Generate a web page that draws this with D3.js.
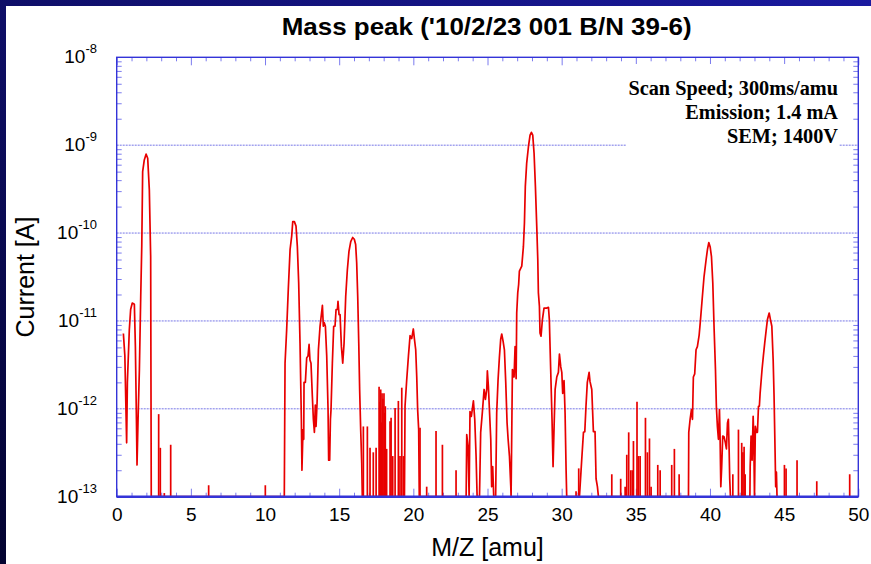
<!DOCTYPE html>
<html>
<head>
<meta charset="utf-8">
<script src="https://cdn.jsdelivr.net/npm/d3@7"></script>
<style>
  body { margin: 0; background: #fff; }
  svg { display: block; }
</style>
</head>
<body>
<svg id="chart" width="871" height="564"></svg>
<script>
// ---- data: [M/Z (amu), ion current (A)]; 0 = below the 1e-13 floor ----
let peakH = [[0.45,7.2e-12],[0.55,4.0e-12],[0.67,4.1e-13],[0.72,2.0e-12],[0.85,7.9e-12],[0.94,1.35e-11],
  [1.05,1.6e-11],[1.19,1.55e-11],[1.26,5.1e-12],[1.33,7.6e-13],[1.37,2.3e-13],[1.44,7.6e-13],[1.53,2.8e-12],
  [1.62,1.9e-11],[1.69,7.1e-11],[1.75,5.0e-10],[1.86,6.8e-10],[1.98,7.9e-10],[2.09,7.1e-10],[2.20,3.1e-10],
  [2.29,5.4e-11],[2.33,0]]

let peakC = [[11.30,0],[11.35,3.3e-12],[11.46,8.0e-12],[11.57,2.3e-11],[11.69,6.5e-11],[11.80,9.3e-11],
  [11.87,1.35e-10],[11.98,1.35e-10],[12.09,1.2e-10],[12.18,7.0e-11],[12.27,2.7e-11],[12.36,5.6e-12],
  [12.45,7.6e-13],[12.49,2.0e-13],[12.56,5.8e-13],[12.61,4.5e-13],[12.63,2.0e-12],[12.72,2.0e-12],
  [12.81,3.8e-12],[12.90,4.0e-12],[12.97,5.4e-12],[13.03,3.6e-12],[13.10,3.3e-12],[13.19,1.4e-12],
  [13.26,7.6e-13],[13.33,5.4e-13],[13.39,1.1e-12],[13.44,6.3e-13],[13.51,1.17e-12],[13.60,4.7e-12],
  [13.71,8.7e-12],[13.87,1.5e-11],[13.93,8.7e-12],[14.00,9.5e-12],[14.07,8.7e-12],[14.16,4.0e-12],
  [14.25,9.8e-13],[14.29,2.6e-13],[14.36,2.6e-13],[14.41,7.6e-13],[14.45,9.8e-13]]

let peakO = [[14.54,3.3e-12],[14.63,8.7e-12],[14.72,8.7e-12],[14.79,1.35e-11],[14.88,1.35e-11],[14.92,1.67e-11],
  [14.99,1.18e-11],[15.06,1.18e-11],[15.15,5.1e-12],[15.24,3.3e-12],[15.33,5.6e-12],[15.44,1.9e-11],
  [15.55,3.8e-11],[15.66,6.2e-11],[15.78,8.0e-11],[15.91,8.9e-11],[16.02,8.5e-11],[16.11,7.4e-11],
  [16.18,4.6e-11],[16.25,1.9e-11],[16.32,5.6e-12],[16.38,1.66e-12],[16.45,5.8e-13],[16.52,2.4e-13],[16.56,0]]

let peakH2O = [[19.40,0],[19.44,1.07e-12],[19.55,2.1e-12],[19.67,4.0e-12],[19.78,6.8e-12],[19.89,6.3e-12],
  [20.00,8.1e-12],[20.07,6.3e-12],[20.16,4.7e-12],[20.23,2.3e-12],[20.29,9.8e-13],[20.36,5.8e-13],[20.40,0]]

let peakC2 = [[23.56,0],[23.60,5.1e-13],[23.69,3.7e-13],[23.76,0],[23.82,9.3e-13],[23.91,8.2e-13],[24.05,1.23e-12],
  [24.14,7.6e-13],[24.23,2.9e-13],[24.30,0],[24.46,0],[24.54,5.4e-13],[24.65,9.0e-13],[24.77,1.66e-12],
  [24.86,1.28e-12],[24.95,1.66e-12],[24.99,2.7e-12],[25.06,1.8e-12],[25.13,9.8e-13],[25.22,4.5e-13],
  [25.28,1.3e-13],[25.35,2.2e-13],[25.42,0],[25.55,0],[25.62,9.0e-13],[25.71,2.1e-12],[25.80,3.8e-12],
  [25.89,6.2e-12],[25.96,7.1e-12],[26.05,5.9e-12],[26.14,4.7e-12],[26.23,2.0e-12],[26.32,6.9e-13],
  [26.39,4.5e-13],[26.48,2.9e-13],[26.57,1.3e-13],[26.59,0]]

let peakN2 = [[26.68,2.8e-12],[26.79,2.3e-12],[26.86,5.1e-12],[26.93,2.2e-12],[26.97,1.23e-11],[27.04,2.1e-11],
  [27.10,2.6e-11],[27.15,3.7e-11],[27.31,4.2e-11],[27.42,7.0e-11],[27.49,1.3e-10],[27.55,3.4e-10],
  [27.64,6.2e-10],[27.76,9.6e-10],[27.87,1.3e-9],[27.96,1.4e-9],[28.05,1.3e-9],[28.14,8.1e-10],
  [28.23,3.4e-10],[28.32,1.2e-10],[28.39,5.0e-11],[28.43,2.1e-11],[28.50,1.47e-11],[28.54,7.3e-12],
  [28.61,6.7e-12],[28.70,1.03e-11],[28.81,1.4e-11],[28.99,1.4e-11],[29.11,1.43e-11],[29.17,1.03e-11],
  [29.26,2.8e-12],[29.35,7.6e-13],[29.42,2.2e-13],[29.49,6.3e-13],[29.56,1.66e-12],[29.67,2.3e-12],
  [29.78,2.6e-12],[29.85,4.2e-12],[29.94,3.0e-12],[30.01,2.6e-12],[30.07,1.5e-12],[30.16,2.1e-12],
  [30.23,9.0e-13],[30.30,2.0e-13],[30.34,0]]

let peakO2 = [[31.20,0],[31.35,2.6e-13],[31.47,5.4e-13],[31.56,5.5e-13],[31.64,1.07e-12],[31.73,2.0e-12],
  [31.85,2.6e-12],[31.91,2.05e-12],[32.03,1.66e-12],[32.14,5.5e-13],[32.25,5.5e-13],[32.32,1.6e-13],
  [32.41,1.3e-13],[32.48,0]]

let peakAr = [[38.55,0],[38.57,5.4e-13],[38.66,7.6e-13],[38.75,9.8e-13],[38.82,7.6e-13],[38.88,2.3e-12],
  [38.97,2.5e-12],[39.06,4.7e-12],[39.15,5.1e-12],[39.27,6.9e-12],[39.36,1.03e-11],[39.47,1.74e-11],
  [39.60,3.2e-11],[39.74,5.0e-11],[39.83,6.5e-11],[39.92,7.8e-11],[40.01,7.0e-11],[40.10,5.4e-11],
  [40.19,2.7e-11],[40.28,8.0e-12],[40.37,2.8e-12],[40.43,1.07e-12],[40.50,6.3e-13],[40.57,4.5e-13],
  [40.64,9.8e-13],[40.68,4.9e-13],[40.73,1.3e-13],[40.79,2.2e-13],[40.86,4.9e-13],[40.95,4.8e-13],
  [41.04,4.1e-13],[41.11,3.5e-13],[41.18,6.9e-13],[41.24,7.6e-13],[41.29,3.5e-13],[41.33,1.6e-13],[41.38,0]]

let peakCO2 = [[42.69,0],[42.71,2.2e-13],[42.77,4.9e-13],[42.84,2.6e-13],[42.91,8.2e-13],[42.95,4.9e-13],
  [43.00,0],[43.06,6.3e-13],[43.13,5.4e-13],[43.20,5.4e-13],[43.27,1.07e-12],[43.33,1.07e-12],
  [43.38,1.5e-12],[43.45,2.1e-12],[43.51,2.8e-12],[43.60,4.0e-12],[43.69,5.6e-12],[43.78,7.6e-12],
  [43.87,1.03e-11],[43.99,1.23e-11],[44.08,1.03e-11],[44.17,8.7e-12],[44.26,3.6e-12],[44.32,1.4e-12],
  [44.39,3.2e-13],[44.43,1.3e-13],[44.48,1.9e-13],[44.52,0]]

// single-sample noise spikes
let spikesLow = [[2.83,8.7e-13],[2.94,3.6e-13],[3.21,1.1e-13],[3.64,3.9e-13],[6.20,1.35e-13],[10.02,1.35e-13]]
let spikesMid = [[16.63,6.3e-13],[16.90,6.3e-13],[17.08,3.6e-13],[17.30,3.2e-13],[17.49,3.6e-13],[17.69,1.78e-12],
  [17.74,1.2e-12],[17.80,1.66e-12],[17.85,7.0e-13],[17.89,1.5e-12],[17.95,1.3e-12],[18.02,1.5e-12],
  [18.06,9.0e-13],[18.11,1.07e-12],[18.20,3.5e-13],[18.43,7.2e-13],[18.50,7.9e-13],[18.61,2.9e-13],
  [18.77,1.02e-12],[18.99,1.23e-12],[19.10,2.9e-13],[19.22,1.74e-12],[19.33,2.9e-13],
  [20.45,6.1e-13],[20.90,1.3e-13],[21.53,5.6e-13],[21.96,3.9e-13],[22.88,2.0e-13]]
let spikesHigh = [[30.97,1.15e-13],[31.15,2.1e-13],[33.38,1.8e-13],[33.98,1.6e-13],[34.28,1.3e-13],[34.39,3.0e-13],
  [34.52,5.4e-13],[34.66,2.0e-13],[34.77,2.0e-13],[34.84,4.3e-13],[35.08,1.2e-12],[35.17,2.9e-13],
  [35.29,2.9e-13],[35.65,7.9e-13],[35.78,3.2e-13],[35.92,4.6e-13],[36.03,1.3e-13],[36.48,2.3e-13],
  [36.64,2.0e-13],[37.42,2.3e-13],[37.60,3.5e-13],[37.92,1.8e-13],[41.54,1.8e-13],[41.92,5.8e-13],
  [42.14,4.1e-13],[42.22,3.2e-13],[42.30,3.7e-13],[42.37,1.8e-13],[45.02,2.3e-13],[45.13,2.1e-13],
  [45.87,2.6e-13],[47.20,1.5e-13],[49.42,1.8e-13]]

let massTicks = [0, 5, 10, 15, 20, 25, 30, 35, 40, 45, 50]
let decadeExponents = [-13, -12, -11, -10, -9, -8]
let notes = ["Scan Speed; 300ms/amu", "Emission; 1.4 mA", "SEM; 1400V"]

// ---- layout ----
let width = 871, height = 564
let margin = { top: 57.3, right: 12.7, bottom: 67.3, left: 116.7 }
let frameColor = "#3434d8", tickColor = "#7b7bee", gridColor = "#7676e6"

let svg = d3.select("#chart")

let x = d3.scaleLinear()
    .domain([0, 50])
    .range([margin.left, width - margin.right])

let y = d3.scaleLog()
    .domain([1e-13, 1e-8])
    .range([height - margin.bottom, margin.top])
    .clamp(true)

let x0 = x.range()[0], x1 = x.range()[1]
let yb = y.range()[0], yt = y.range()[1]

// slide background
let defs = svg.append("defs")
let grad = defs.append("linearGradient").attr("id", "bg")
    .attr("x1", "0").attr("y1", "1").attr("x2", "1").attr("y2", "0")
grad.append("stop").attr("offset", "0%").attr("stop-color", "#030330")
grad.append("stop").attr("offset", "100%").attr("stop-color", "#1a1aa0")
svg.append("rect").attr("width", width).attr("height", height).attr("fill", "url(#bg)")
svg.append("rect").attr("x", 6).attr("y", 6).attr("width", width - 6).attr("height", height - 6).attr("fill", "white")

// decade grid
let gridDecades = decadeExponents.slice(1, -1).map(e => Math.pow(10, e))
svg.append("g").selectAll("line")
    .data(gridDecades)
    .join("line")
    .attr("x1", x0).attr("x2", x1)
    .attr("y1", d => y(d)).attr("y2", d => y(d))
    .style("stroke", gridColor)
    .style("stroke-width", 1)
    .style("stroke-dasharray", "2,1")

// ticks helper
function tickStyle(g) {
    g.select(".domain").remove()
    g.selectAll(".tick line").attr("stroke", tickColor).attr("stroke-width", 1)
}

let minorMass = d3.range(0, 51, 1).filter(v => v % 5 != 0)
let minorLog = []
decadeExponents.slice(0, -1).forEach(e => {
    for (let k = 2; k <= 9; k++) minorLog.push(k * Math.pow(10, e))
})

svg.append("g").attr("transform", `translate(0,${yb})`)
    .call(d3.axisBottom(x).tickValues(minorMass).tickSize(-4).tickFormat("")).call(tickStyle)
svg.append("g").attr("transform", `translate(0,${yb})`)
    .call(d3.axisBottom(x).tickValues(massTicks).tickSize(-8).tickFormat("")).call(tickStyle)
svg.append("g").attr("transform", `translate(0,${yt})`)
    .call(d3.axisTop(x).tickValues(minorMass).tickSize(-4).tickFormat("")).call(tickStyle)
svg.append("g").attr("transform", `translate(0,${yt})`)
    .call(d3.axisTop(x).tickValues(massTicks).tickSize(-8).tickFormat("")).call(tickStyle)
svg.append("g").attr("transform", `translate(${x0},0)`)
    .call(d3.axisLeft(y).tickValues(minorLog).tickSize(-5).tickFormat("")).call(tickStyle)
svg.append("g").attr("transform", `translate(${x1},0)`)
    .call(d3.axisRight(y).tickValues(minorLog).tickSize(-5).tickFormat("")).call(tickStyle)

// annotation box (hides the grid behind it)
let noteG = svg.append("g")
noteG.append("rect")
    .attr("x", 626).attr("y", 64).attr("width", 213).attr("height", 84)
    .attr("fill", "white")
noteG.selectAll("text")
    .data(notes)
    .join("text")
    .attr("x", 838)
    .attr("y", (d, i) => 95 + i * 24)
    .attr("text-anchor", "end")
    .style("font-family", "'Liberation Serif', 'Times New Roman', serif")
    .style("font-weight", "bold")
    .style("font-size", "20.3px")
    .style("fill", "black")
    .text(d => d)

// trace
let scan = [].concat(peakH, peakC, peakO, peakH2O, peakC2, peakN2, peakO2, peakAr, peakCO2)
let line = d3.line()
    .x(d => x(d[0]))
    .y(d => y(d[1]))

svg.append("path")
    .datum(scan)
    .attr("d", line)
    .style("fill", "none")
    .style("stroke", "#e80000")
    .style("stroke-width", 1.7)
    .style("stroke-linejoin", "round")

svg.append("g").selectAll("line")
    .data([].concat(spikesLow, spikesMid, spikesHigh))
    .join("line")
    .attr("x1", d => x(d[0])).attr("x2", d => x(d[0]))
    .attr("y1", y(1e-13)).attr("y2", d => y(d[1]))
    .style("stroke", "#e80000")
    .style("stroke-width", 1.7)

// frame
svg.append("rect")
    .attr("x", x0).attr("y", yt).attr("width", x1 - x0).attr("height", yb - yt)
    .style("fill", "none")
    .style("stroke", frameColor)
    .style("stroke-width", 1.4)
svg.append("line")
    .attr("x1", x0).attr("x2", x1).attr("y1", yb).attr("y2", yb)
    .style("stroke", frameColor)
    .style("stroke-width", 2.6)

// x tick labels
let xLabels = svg.append("g").attr("transform", `translate(0,${yb})`)
    .call(d3.axisBottom(x).tickValues(massTicks).tickSize(0).tickPadding(11).tickFormat(d3.format("d")))
xLabels.select(".domain").remove()
xLabels.selectAll("text")
    .style("font-family", "'Liberation Sans', Arial, sans-serif")
    .style("font-size", "19px")
    .style("fill", "black")

// y tick labels: 10^n
let yLabels = svg.append("g").selectAll("text")
    .data(decadeExponents)
    .join("text")
    .attr("x", 97)
    .attr("y", d => y(Math.pow(10, d)) + 6)
    .attr("text-anchor", "end")
    .style("font-family", "'Liberation Sans', Arial, sans-serif")
    .style("fill", "black")
yLabels.append("tspan").style("font-size", "19px").text("10")
yLabels.append("tspan").style("font-size", "13px").attr("dy", -10).text(d => String(d))

// titles
svg.append("text")
    .attr("x", 486.7).attr("y", 35)
    .attr("text-anchor", "middle")
    .attr("textLength", 410).attr("lengthAdjust", "spacingAndGlyphs")
    .style("font-family", "'Liberation Sans', Arial, sans-serif")
    .style("font-weight", "bold")
    .style("font-size", "24px")
    .text("Mass peak ('10/2/23 001 B/N 39-6)")

svg.append("text")
    .attr("x", (x0 + x1) / 2).attr("y", 556)
    .attr("text-anchor", "middle")
    .style("font-family", "'Liberation Sans', Arial, sans-serif")
    .style("font-size", "25px")
    .text("M/Z [amu]")

svg.append("text")
    .attr("transform", `translate(34,${(yt + yb) / 2}) rotate(-90)`)
    .attr("text-anchor", "middle")
    .style("font-family", "'Liberation Sans', Arial, sans-serif")
    .style("font-size", "25px")
    .text("Current [A]")
</script>
</body>
</html>
